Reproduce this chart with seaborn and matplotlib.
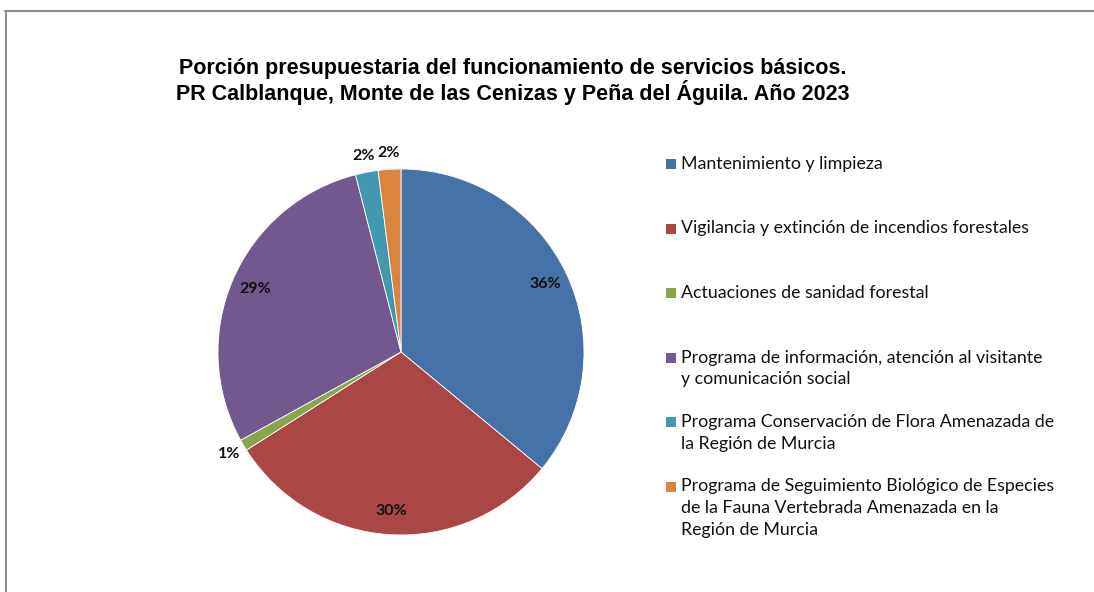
import matplotlib.pyplot as plt
import numpy as np
import seaborn as sns
from matplotlib.patches import Rectangle
from matplotlib.lines import Line2D

# Datos del grafico
categorias = [
    "Mantenimiento y limpieza",
    "Vigilancia y extinción de incendios forestales",
    "Actuaciones de sanidad forestal",
    "Programa de información, atención al visitante\ny comunicación social",
    "Programa Conservación de Flora Amenazada de\nla Región de Murcia",
    "Programa de Seguimiento Biológico de Especies\nde la Fauna Vertebrada Amenazada en la\nRegión de Murcia",
]
porcentajes = [36, 30, 1, 29, 2, 2]
colores = ["#4572A7", "#AA4643", "#89A54E", "#71588F", "#4198AF", "#DB843D"]

titulo = ("Porción presupuestaria del funcionamiento de servicios básicos.\n"
          "PR Calblanque, Monte de las Cenizas y Peña del Águila. Año 2023")

sns.set_theme(style="white")
plt.rcParams["font.family"] = ["Liberation Sans", "DejaVu Sans"]

fig = plt.figure(figsize=(10.94, 5.92), dpi=100)
fig.patch.set_facecolor("white")

# Pie: centro aprox (401, 352) px, radio 183 px
R = 183
ax = fig.add_axes([(401 - R) / 1094, (592 - 352 - R) / 592, 2 * R / 1094, 2 * R / 592])
wedges, _ = ax.pie(porcentajes, colors=colores, startangle=90, counterclock=False,
                   wedgeprops=dict(edgecolor="white", linewidth=0.6))
ax.set_aspect("equal")
ax.set_xlim(-1, 1)
ax.set_ylim(-1, 1)

# Etiquetas de porcentaje: dentro para las grandes, fuera para las pequeñas
for w, p in zip(wedges, porcentajes):
    ang = np.deg2rad((w.theta1 + w.theta2) / 2)
    r = 0.87 if p >= 5 else 1.09
    ax.text(r * np.cos(ang), r * np.sin(ang), f"{p}%", ha="center", va="center",
            fontsize=11.5, fontweight="bold", family=["Lato", "DejaVu Sans"], color="#111111")

# Titulo
fig.text(513 / 1094, 1 - 81.5 / 592, titulo, ha="center", va="center",
         fontsize=15.5, fontweight="bold", linespacing=1.05, color="black")

# Leyenda manual (cada entrada en su hueco fijo)
y0 = 166
paso = 64.5
for i, (cat, col) in enumerate(zip(categorias, colores)):
    y = y0 + i * paso
    fig.patches.append(Rectangle((666 / 1094, 1 - (y + 3) / 592), 10 / 1094, 10 / 592,
                                 transform=fig.transFigure, facecolor=col, edgecolor="none"))
    fig.text(681 / 1094, 1 - (y - 10) / 592, cat, ha="left", va="top",
             fontsize=12.8, family=["Lato", "DejaVu Sans"], color="#111111", linespacing=1.45)

# Borde gris (arriba e izquierda)
fig.add_artist(Line2D([5 / 1094, 1], [1 - 10.5 / 592, 1 - 10.5 / 592],
                      transform=fig.transFigure, color="#8c8c8c", lw=1.5))
fig.add_artist(Line2D([5.5 / 1094, 5.5 / 1094], [0, 1 - 10.5 / 592],
                      transform=fig.transFigure, color="#8c8c8c", lw=1.5))

fig.savefig("out.png", dpi=100, facecolor="white")
